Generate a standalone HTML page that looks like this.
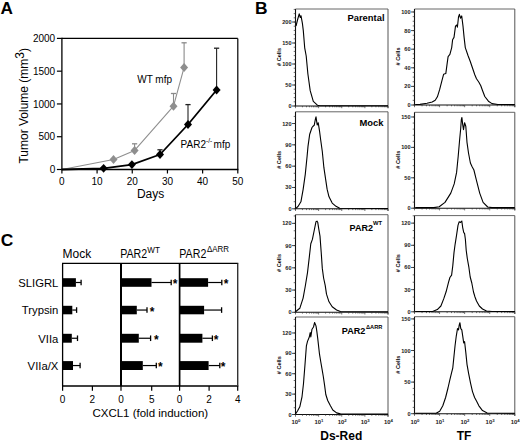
<!DOCTYPE html>
<html><head><meta charset="utf-8"><style>
html,body{margin:0;padding:0;background:#fff;width:520px;height:442px;overflow:hidden;}
svg{display:block;font-family:"Liberation Sans", sans-serif;}
</style></head><body>
<svg width="520" height="442" viewBox="0 0 520 442">
<rect width="520" height="442" fill="#fff"/>
<text x="0.60" y="14.30" font-size="17.2" text-anchor="start" font-weight="bold" fill="#000" >A</text>
<text x="254.90" y="14.20" font-size="17.4" text-anchor="start" font-weight="bold" fill="#000" >B</text>
<text x="0.80" y="246.40" font-size="17.4" text-anchor="start" font-weight="bold" fill="#000" >C</text>
<line x1="61.90" y1="38.40" x2="237.80" y2="38.40" stroke="#000" stroke-width="1.2"/>
<line x1="237.80" y1="38.40" x2="237.80" y2="169.50" stroke="#000" stroke-width="1.2"/>
<line x1="61.90" y1="37.80" x2="61.90" y2="170.10" stroke="#000" stroke-width="1.3"/>
<line x1="61.30" y1="169.50" x2="238.40" y2="169.50" stroke="#000" stroke-width="1.3"/>
<line x1="56.90" y1="169.50" x2="61.90" y2="169.50" stroke="#000" stroke-width="1.2"/>
<text x="55.20" y="173.10" font-size="10" text-anchor="end" font-weight="normal" fill="#000" >0</text>
<line x1="56.90" y1="136.72" x2="61.90" y2="136.72" stroke="#000" stroke-width="1.2"/>
<text x="55.20" y="140.32" font-size="10" text-anchor="end" font-weight="normal" fill="#000" >500</text>
<line x1="56.90" y1="103.95" x2="61.90" y2="103.95" stroke="#000" stroke-width="1.2"/>
<text x="55.20" y="107.55" font-size="10" text-anchor="end" font-weight="normal" fill="#000" >1000</text>
<line x1="56.90" y1="71.17" x2="61.90" y2="71.17" stroke="#000" stroke-width="1.2"/>
<text x="55.20" y="74.77" font-size="10" text-anchor="end" font-weight="normal" fill="#000" >1500</text>
<line x1="56.90" y1="38.40" x2="61.90" y2="38.40" stroke="#000" stroke-width="1.2"/>
<text x="55.20" y="42.00" font-size="10" text-anchor="end" font-weight="normal" fill="#000" >2000</text>
<line x1="61.90" y1="169.50" x2="61.90" y2="173.50" stroke="#000" stroke-width="1.2"/>
<text x="61.90" y="185.00" font-size="10" text-anchor="middle" font-weight="normal" fill="#000" >0</text>
<line x1="97.08" y1="169.50" x2="97.08" y2="173.50" stroke="#000" stroke-width="1.2"/>
<text x="97.08" y="185.00" font-size="10" text-anchor="middle" font-weight="normal" fill="#000" >10</text>
<line x1="132.26" y1="169.50" x2="132.26" y2="173.50" stroke="#000" stroke-width="1.2"/>
<text x="132.26" y="185.00" font-size="10" text-anchor="middle" font-weight="normal" fill="#000" >20</text>
<line x1="167.44" y1="169.50" x2="167.44" y2="173.50" stroke="#000" stroke-width="1.2"/>
<text x="167.44" y="185.00" font-size="10" text-anchor="middle" font-weight="normal" fill="#000" >30</text>
<line x1="202.62" y1="169.50" x2="202.62" y2="173.50" stroke="#000" stroke-width="1.2"/>
<text x="202.62" y="185.00" font-size="10" text-anchor="middle" font-weight="normal" fill="#000" >40</text>
<line x1="237.80" y1="169.50" x2="237.80" y2="173.50" stroke="#000" stroke-width="1.2"/>
<text x="237.80" y="185.00" font-size="10" text-anchor="middle" font-weight="normal" fill="#000" >50</text>
<text x="150.60" y="197.60" font-size="12" text-anchor="middle" font-weight="normal" fill="#000" >Days</text>
<text transform="translate(28.0,163.6) rotate(-90)" font-size="12">Tumor Volume (mm<tspan font-size="12" dy="-3.6">3</tspan><tspan dy="3.6">)</tspan></text>
<line x1="134.60" y1="150.40" x2="134.60" y2="143.80" stroke="#8a8a8a" stroke-width="1.1"/>
<line x1="132.00" y1="143.80" x2="137.20" y2="143.80" stroke="#8a8a8a" stroke-width="1.3"/>
<line x1="173.50" y1="106.20" x2="173.50" y2="93.50" stroke="#8a8a8a" stroke-width="1.1"/>
<line x1="170.90" y1="93.50" x2="176.10" y2="93.50" stroke="#8a8a8a" stroke-width="1.3"/>
<line x1="184.10" y1="67.40" x2="184.10" y2="42.80" stroke="#8a8a8a" stroke-width="1.1"/>
<line x1="181.50" y1="42.80" x2="186.70" y2="42.80" stroke="#8a8a8a" stroke-width="1.3"/>
<polyline points="61.90,169.50 113.50,159.50 134.60,150.40 173.50,106.20 184.10,67.40" fill="none" stroke="#8f8f8f" stroke-width="1.1" stroke-linejoin="round"/>
<path d="M113.50,155.00 L117.50,159.50 L113.50,164.00 L109.50,159.50 Z" fill="#8e8e8e"/>
<path d="M134.60,145.90 L138.60,150.40 L134.60,154.90 L130.60,150.40 Z" fill="#8e8e8e"/>
<path d="M173.50,101.70 L177.50,106.20 L173.50,110.70 L169.50,106.20 Z" fill="#8e8e8e"/>
<path d="M184.10,62.90 L188.10,67.40 L184.10,71.90 L180.10,67.40 Z" fill="#8e8e8e"/>
<line x1="160.00" y1="154.50" x2="160.00" y2="149.80" stroke="#222" stroke-width="1.1"/>
<line x1="157.40" y1="149.80" x2="162.60" y2="149.80" stroke="#222" stroke-width="1.3"/>
<line x1="188.00" y1="124.50" x2="188.00" y2="104.60" stroke="#222" stroke-width="1.1"/>
<line x1="185.40" y1="104.60" x2="190.60" y2="104.60" stroke="#222" stroke-width="1.3"/>
<line x1="216.60" y1="90.00" x2="216.60" y2="48.20" stroke="#222" stroke-width="1.1"/>
<line x1="214.00" y1="48.20" x2="219.20" y2="48.20" stroke="#222" stroke-width="1.3"/>
<polyline points="61.90,169.50 103.60,168.30 131.90,164.60 160.00,154.50 188.00,124.50 216.60,90.00" fill="none" stroke="#000" stroke-width="1.8" stroke-linejoin="round"/>
<path d="M103.60,163.90 L107.60,168.30 L103.60,172.70 L99.60,168.30 Z" fill="#000"/>
<path d="M131.90,160.20 L135.90,164.60 L131.90,169.00 L127.90,164.60 Z" fill="#000"/>
<path d="M160.00,150.10 L164.00,154.50 L160.00,158.90 L156.00,154.50 Z" fill="#000"/>
<path d="M188.00,120.10 L192.00,124.50 L188.00,128.90 L184.00,124.50 Z" fill="#000"/>
<path d="M216.60,85.60 L220.60,90.00 L216.60,94.40 L212.60,90.00 Z" fill="#000"/>
<text x="137.20" y="83.40" font-size="10" text-anchor="start" font-weight="normal" fill="#000" >WT mfp</text>
<text x="180.6" y="147.5" font-size="10">PAR2<tspan font-size="6.5" dy="-4.2">-/-</tspan></text>
<text x="213.60" y="147.50" font-size="10" text-anchor="start" font-weight="normal" fill="#000" >mfp</text>
<line x1="295.50" y1="9.00" x2="388.00" y2="9.00" stroke="#666" stroke-width="1.0"/>
<line x1="388.00" y1="9.00" x2="388.00" y2="108.20" stroke="#555" stroke-width="1.0"/>
<line x1="295.50" y1="9.00" x2="295.50" y2="106.50" stroke="#111" stroke-width="1.1"/>
<line x1="295.50" y1="106.00" x2="388.00" y2="106.00" stroke="#111" stroke-width="1.1"/>
<line x1="293.70" y1="106.00" x2="295.50" y2="106.00" stroke="#333" stroke-width="0.7"/>
<line x1="293.70" y1="101.80" x2="295.50" y2="101.80" stroke="#333" stroke-width="0.7"/>
<line x1="293.70" y1="97.60" x2="295.50" y2="97.60" stroke="#333" stroke-width="0.7"/>
<line x1="293.70" y1="93.40" x2="295.50" y2="93.40" stroke="#333" stroke-width="0.7"/>
<line x1="293.70" y1="89.20" x2="295.50" y2="89.20" stroke="#333" stroke-width="0.7"/>
<line x1="293.70" y1="85.00" x2="295.50" y2="85.00" stroke="#333" stroke-width="0.7"/>
<line x1="293.70" y1="80.81" x2="295.50" y2="80.81" stroke="#333" stroke-width="0.7"/>
<line x1="293.70" y1="76.61" x2="295.50" y2="76.61" stroke="#333" stroke-width="0.7"/>
<line x1="293.70" y1="72.41" x2="295.50" y2="72.41" stroke="#333" stroke-width="0.7"/>
<line x1="293.70" y1="68.21" x2="295.50" y2="68.21" stroke="#333" stroke-width="0.7"/>
<line x1="293.70" y1="64.01" x2="295.50" y2="64.01" stroke="#333" stroke-width="0.7"/>
<line x1="293.70" y1="59.81" x2="295.50" y2="59.81" stroke="#333" stroke-width="0.7"/>
<line x1="293.70" y1="55.61" x2="295.50" y2="55.61" stroke="#333" stroke-width="0.7"/>
<line x1="293.70" y1="51.41" x2="295.50" y2="51.41" stroke="#333" stroke-width="0.7"/>
<line x1="293.70" y1="47.21" x2="295.50" y2="47.21" stroke="#333" stroke-width="0.7"/>
<line x1="293.70" y1="43.01" x2="295.50" y2="43.01" stroke="#333" stroke-width="0.7"/>
<line x1="293.70" y1="38.81" x2="295.50" y2="38.81" stroke="#333" stroke-width="0.7"/>
<line x1="293.70" y1="34.61" x2="295.50" y2="34.61" stroke="#333" stroke-width="0.7"/>
<line x1="293.70" y1="30.42" x2="295.50" y2="30.42" stroke="#333" stroke-width="0.7"/>
<line x1="293.70" y1="26.22" x2="295.50" y2="26.22" stroke="#333" stroke-width="0.7"/>
<line x1="293.70" y1="22.02" x2="295.50" y2="22.02" stroke="#333" stroke-width="0.7"/>
<line x1="293.70" y1="17.82" x2="295.50" y2="17.82" stroke="#333" stroke-width="0.7"/>
<line x1="293.70" y1="13.62" x2="295.50" y2="13.62" stroke="#333" stroke-width="0.7"/>
<line x1="293.70" y1="9.42" x2="295.50" y2="9.42" stroke="#333" stroke-width="0.7"/>
<line x1="292.00" y1="106.00" x2="295.50" y2="106.00" stroke="#222" stroke-width="0.8"/>
<text x="291.60" y="108.00" font-size="5.6" text-anchor="end" font-weight="bold" fill="#222" >0</text>
<line x1="292.00" y1="85.00" x2="295.50" y2="85.00" stroke="#222" stroke-width="0.8"/>
<text x="291.60" y="87.00" font-size="5.6" text-anchor="end" font-weight="bold" fill="#222" >50</text>
<line x1="292.00" y1="64.01" x2="295.50" y2="64.01" stroke="#222" stroke-width="0.8"/>
<text x="291.60" y="66.01" font-size="5.6" text-anchor="end" font-weight="bold" fill="#222" >100</text>
<line x1="292.00" y1="43.01" x2="295.50" y2="43.01" stroke="#222" stroke-width="0.8"/>
<text x="291.60" y="45.01" font-size="5.6" text-anchor="end" font-weight="bold" fill="#222" >150</text>
<line x1="292.00" y1="22.02" x2="295.50" y2="22.02" stroke="#222" stroke-width="0.8"/>
<text x="291.60" y="24.02" font-size="5.6" text-anchor="end" font-weight="bold" fill="#222" >200</text>
<line x1="295.50" y1="106.00" x2="295.50" y2="108.20" stroke="#333" stroke-width="0.7"/>
<line x1="302.46" y1="106.00" x2="302.46" y2="107.30" stroke="#333" stroke-width="0.7"/>
<line x1="306.53" y1="106.00" x2="306.53" y2="107.30" stroke="#333" stroke-width="0.7"/>
<line x1="309.42" y1="106.00" x2="309.42" y2="107.30" stroke="#333" stroke-width="0.7"/>
<line x1="311.66" y1="106.00" x2="311.66" y2="107.30" stroke="#333" stroke-width="0.7"/>
<line x1="313.49" y1="106.00" x2="313.49" y2="107.30" stroke="#333" stroke-width="0.7"/>
<line x1="315.04" y1="106.00" x2="315.04" y2="107.30" stroke="#333" stroke-width="0.7"/>
<line x1="316.38" y1="106.00" x2="316.38" y2="107.30" stroke="#333" stroke-width="0.7"/>
<line x1="317.57" y1="106.00" x2="317.57" y2="107.30" stroke="#333" stroke-width="0.7"/>
<line x1="318.62" y1="106.00" x2="318.62" y2="108.20" stroke="#333" stroke-width="0.7"/>
<line x1="325.59" y1="106.00" x2="325.59" y2="107.30" stroke="#333" stroke-width="0.7"/>
<line x1="329.66" y1="106.00" x2="329.66" y2="107.30" stroke="#333" stroke-width="0.7"/>
<line x1="332.55" y1="106.00" x2="332.55" y2="107.30" stroke="#333" stroke-width="0.7"/>
<line x1="334.79" y1="106.00" x2="334.79" y2="107.30" stroke="#333" stroke-width="0.7"/>
<line x1="336.62" y1="106.00" x2="336.62" y2="107.30" stroke="#333" stroke-width="0.7"/>
<line x1="338.17" y1="106.00" x2="338.17" y2="107.30" stroke="#333" stroke-width="0.7"/>
<line x1="339.51" y1="106.00" x2="339.51" y2="107.30" stroke="#333" stroke-width="0.7"/>
<line x1="340.69" y1="106.00" x2="340.69" y2="107.30" stroke="#333" stroke-width="0.7"/>
<line x1="341.75" y1="106.00" x2="341.75" y2="108.20" stroke="#333" stroke-width="0.7"/>
<line x1="348.71" y1="106.00" x2="348.71" y2="107.30" stroke="#333" stroke-width="0.7"/>
<line x1="352.78" y1="106.00" x2="352.78" y2="107.30" stroke="#333" stroke-width="0.7"/>
<line x1="355.67" y1="106.00" x2="355.67" y2="107.30" stroke="#333" stroke-width="0.7"/>
<line x1="357.91" y1="106.00" x2="357.91" y2="107.30" stroke="#333" stroke-width="0.7"/>
<line x1="359.74" y1="106.00" x2="359.74" y2="107.30" stroke="#333" stroke-width="0.7"/>
<line x1="361.29" y1="106.00" x2="361.29" y2="107.30" stroke="#333" stroke-width="0.7"/>
<line x1="362.63" y1="106.00" x2="362.63" y2="107.30" stroke="#333" stroke-width="0.7"/>
<line x1="363.82" y1="106.00" x2="363.82" y2="107.30" stroke="#333" stroke-width="0.7"/>
<line x1="364.88" y1="106.00" x2="364.88" y2="108.20" stroke="#333" stroke-width="0.7"/>
<line x1="371.84" y1="106.00" x2="371.84" y2="107.30" stroke="#333" stroke-width="0.7"/>
<line x1="375.91" y1="106.00" x2="375.91" y2="107.30" stroke="#333" stroke-width="0.7"/>
<line x1="378.80" y1="106.00" x2="378.80" y2="107.30" stroke="#333" stroke-width="0.7"/>
<line x1="381.04" y1="106.00" x2="381.04" y2="107.30" stroke="#333" stroke-width="0.7"/>
<line x1="382.87" y1="106.00" x2="382.87" y2="107.30" stroke="#333" stroke-width="0.7"/>
<line x1="384.42" y1="106.00" x2="384.42" y2="107.30" stroke="#333" stroke-width="0.7"/>
<line x1="385.76" y1="106.00" x2="385.76" y2="107.30" stroke="#333" stroke-width="0.7"/>
<line x1="386.94" y1="106.00" x2="386.94" y2="107.30" stroke="#333" stroke-width="0.7"/>
<line x1="388.00" y1="106.00" x2="388.00" y2="108.20" stroke="#333" stroke-width="0.7"/>
<polyline points="296.00,26.00 297.50,20.00 299.20,13.90 300.30,17.50 301.00,15.70 302.40,23.40 303.30,30.60 304.70,47.80 306.20,56.00 307.90,74.00 310.20,90.70 313.30,101.40 317.40,105.20 320.00,105.80 388.00,105.80" fill="none" stroke="#000" stroke-width="1.1" stroke-linejoin="round"/>
<text transform="translate(280.90,57.00) rotate(-90)" font-size="5.6" text-anchor="middle" font-weight="bold" fill="#000"># Cells</text>
<line x1="295.50" y1="111.80" x2="388.00" y2="111.80" stroke="#666" stroke-width="1.0"/>
<line x1="388.00" y1="111.80" x2="388.00" y2="211.00" stroke="#555" stroke-width="1.0"/>
<line x1="295.50" y1="111.80" x2="295.50" y2="209.30" stroke="#111" stroke-width="1.1"/>
<line x1="295.50" y1="208.80" x2="388.00" y2="208.80" stroke="#111" stroke-width="1.1"/>
<line x1="293.70" y1="208.80" x2="295.50" y2="208.80" stroke="#333" stroke-width="0.7"/>
<line x1="293.70" y1="201.69" x2="295.50" y2="201.69" stroke="#333" stroke-width="0.7"/>
<line x1="293.70" y1="194.59" x2="295.50" y2="194.59" stroke="#333" stroke-width="0.7"/>
<line x1="293.70" y1="187.48" x2="295.50" y2="187.48" stroke="#333" stroke-width="0.7"/>
<line x1="293.70" y1="180.38" x2="295.50" y2="180.38" stroke="#333" stroke-width="0.7"/>
<line x1="293.70" y1="173.27" x2="295.50" y2="173.27" stroke="#333" stroke-width="0.7"/>
<line x1="293.70" y1="166.16" x2="295.50" y2="166.16" stroke="#333" stroke-width="0.7"/>
<line x1="293.70" y1="159.06" x2="295.50" y2="159.06" stroke="#333" stroke-width="0.7"/>
<line x1="293.70" y1="151.95" x2="295.50" y2="151.95" stroke="#333" stroke-width="0.7"/>
<line x1="293.70" y1="144.84" x2="295.50" y2="144.84" stroke="#333" stroke-width="0.7"/>
<line x1="293.70" y1="137.74" x2="295.50" y2="137.74" stroke="#333" stroke-width="0.7"/>
<line x1="293.70" y1="130.63" x2="295.50" y2="130.63" stroke="#333" stroke-width="0.7"/>
<line x1="293.70" y1="123.53" x2="295.50" y2="123.53" stroke="#333" stroke-width="0.7"/>
<line x1="293.70" y1="116.42" x2="295.50" y2="116.42" stroke="#333" stroke-width="0.7"/>
<line x1="292.00" y1="208.80" x2="295.50" y2="208.80" stroke="#222" stroke-width="0.8"/>
<text x="291.60" y="210.80" font-size="5.6" text-anchor="end" font-weight="bold" fill="#222" >0</text>
<line x1="292.00" y1="187.48" x2="295.50" y2="187.48" stroke="#222" stroke-width="0.8"/>
<text x="291.60" y="189.48" font-size="5.6" text-anchor="end" font-weight="bold" fill="#222" >30</text>
<line x1="292.00" y1="166.16" x2="295.50" y2="166.16" stroke="#222" stroke-width="0.8"/>
<text x="291.60" y="168.16" font-size="5.6" text-anchor="end" font-weight="bold" fill="#222" >60</text>
<line x1="292.00" y1="144.84" x2="295.50" y2="144.84" stroke="#222" stroke-width="0.8"/>
<text x="291.60" y="146.84" font-size="5.6" text-anchor="end" font-weight="bold" fill="#222" >90</text>
<line x1="292.00" y1="123.53" x2="295.50" y2="123.53" stroke="#222" stroke-width="0.8"/>
<text x="291.60" y="125.53" font-size="5.6" text-anchor="end" font-weight="bold" fill="#222" >120</text>
<line x1="295.50" y1="208.80" x2="295.50" y2="211.00" stroke="#333" stroke-width="0.7"/>
<line x1="302.46" y1="208.80" x2="302.46" y2="210.10" stroke="#333" stroke-width="0.7"/>
<line x1="306.53" y1="208.80" x2="306.53" y2="210.10" stroke="#333" stroke-width="0.7"/>
<line x1="309.42" y1="208.80" x2="309.42" y2="210.10" stroke="#333" stroke-width="0.7"/>
<line x1="311.66" y1="208.80" x2="311.66" y2="210.10" stroke="#333" stroke-width="0.7"/>
<line x1="313.49" y1="208.80" x2="313.49" y2="210.10" stroke="#333" stroke-width="0.7"/>
<line x1="315.04" y1="208.80" x2="315.04" y2="210.10" stroke="#333" stroke-width="0.7"/>
<line x1="316.38" y1="208.80" x2="316.38" y2="210.10" stroke="#333" stroke-width="0.7"/>
<line x1="317.57" y1="208.80" x2="317.57" y2="210.10" stroke="#333" stroke-width="0.7"/>
<line x1="318.62" y1="208.80" x2="318.62" y2="211.00" stroke="#333" stroke-width="0.7"/>
<line x1="325.59" y1="208.80" x2="325.59" y2="210.10" stroke="#333" stroke-width="0.7"/>
<line x1="329.66" y1="208.80" x2="329.66" y2="210.10" stroke="#333" stroke-width="0.7"/>
<line x1="332.55" y1="208.80" x2="332.55" y2="210.10" stroke="#333" stroke-width="0.7"/>
<line x1="334.79" y1="208.80" x2="334.79" y2="210.10" stroke="#333" stroke-width="0.7"/>
<line x1="336.62" y1="208.80" x2="336.62" y2="210.10" stroke="#333" stroke-width="0.7"/>
<line x1="338.17" y1="208.80" x2="338.17" y2="210.10" stroke="#333" stroke-width="0.7"/>
<line x1="339.51" y1="208.80" x2="339.51" y2="210.10" stroke="#333" stroke-width="0.7"/>
<line x1="340.69" y1="208.80" x2="340.69" y2="210.10" stroke="#333" stroke-width="0.7"/>
<line x1="341.75" y1="208.80" x2="341.75" y2="211.00" stroke="#333" stroke-width="0.7"/>
<line x1="348.71" y1="208.80" x2="348.71" y2="210.10" stroke="#333" stroke-width="0.7"/>
<line x1="352.78" y1="208.80" x2="352.78" y2="210.10" stroke="#333" stroke-width="0.7"/>
<line x1="355.67" y1="208.80" x2="355.67" y2="210.10" stroke="#333" stroke-width="0.7"/>
<line x1="357.91" y1="208.80" x2="357.91" y2="210.10" stroke="#333" stroke-width="0.7"/>
<line x1="359.74" y1="208.80" x2="359.74" y2="210.10" stroke="#333" stroke-width="0.7"/>
<line x1="361.29" y1="208.80" x2="361.29" y2="210.10" stroke="#333" stroke-width="0.7"/>
<line x1="362.63" y1="208.80" x2="362.63" y2="210.10" stroke="#333" stroke-width="0.7"/>
<line x1="363.82" y1="208.80" x2="363.82" y2="210.10" stroke="#333" stroke-width="0.7"/>
<line x1="364.88" y1="208.80" x2="364.88" y2="211.00" stroke="#333" stroke-width="0.7"/>
<line x1="371.84" y1="208.80" x2="371.84" y2="210.10" stroke="#333" stroke-width="0.7"/>
<line x1="375.91" y1="208.80" x2="375.91" y2="210.10" stroke="#333" stroke-width="0.7"/>
<line x1="378.80" y1="208.80" x2="378.80" y2="210.10" stroke="#333" stroke-width="0.7"/>
<line x1="381.04" y1="208.80" x2="381.04" y2="210.10" stroke="#333" stroke-width="0.7"/>
<line x1="382.87" y1="208.80" x2="382.87" y2="210.10" stroke="#333" stroke-width="0.7"/>
<line x1="384.42" y1="208.80" x2="384.42" y2="210.10" stroke="#333" stroke-width="0.7"/>
<line x1="385.76" y1="208.80" x2="385.76" y2="210.10" stroke="#333" stroke-width="0.7"/>
<line x1="386.94" y1="208.80" x2="386.94" y2="210.10" stroke="#333" stroke-width="0.7"/>
<line x1="388.00" y1="208.80" x2="388.00" y2="211.00" stroke="#333" stroke-width="0.7"/>
<polyline points="295.50,208.60 298.00,206.50 300.90,201.80 303.10,189.60 305.30,174.10 307.10,156.30 308.00,146.40 309.70,134.20 312.00,127.50 313.10,126.20 314.20,125.30 315.40,119.20 316.00,116.90 317.20,125.00 318.20,122.70 319.50,130.80 320.70,140.00 322.30,151.50 323.90,167.70 325.80,180.30 327.10,189.20 329.00,196.80 332.20,203.10 336.00,206.30 339.70,208.30 388.00,208.50" fill="none" stroke="#000" stroke-width="1.1" stroke-linejoin="round"/>
<text transform="translate(280.90,159.80) rotate(-90)" font-size="5.6" text-anchor="middle" font-weight="bold" fill="#000"># Cells</text>
<line x1="295.50" y1="214.70" x2="388.00" y2="214.70" stroke="#666" stroke-width="1.0"/>
<line x1="388.00" y1="214.70" x2="388.00" y2="314.50" stroke="#555" stroke-width="1.0"/>
<line x1="295.50" y1="214.70" x2="295.50" y2="312.80" stroke="#111" stroke-width="1.1"/>
<line x1="295.50" y1="312.30" x2="388.00" y2="312.30" stroke="#111" stroke-width="1.1"/>
<line x1="293.70" y1="312.30" x2="295.50" y2="312.30" stroke="#333" stroke-width="0.7"/>
<line x1="293.70" y1="304.89" x2="295.50" y2="304.89" stroke="#333" stroke-width="0.7"/>
<line x1="293.70" y1="297.48" x2="295.50" y2="297.48" stroke="#333" stroke-width="0.7"/>
<line x1="293.70" y1="290.07" x2="295.50" y2="290.07" stroke="#333" stroke-width="0.7"/>
<line x1="293.70" y1="282.66" x2="295.50" y2="282.66" stroke="#333" stroke-width="0.7"/>
<line x1="293.70" y1="275.25" x2="295.50" y2="275.25" stroke="#333" stroke-width="0.7"/>
<line x1="293.70" y1="267.84" x2="295.50" y2="267.84" stroke="#333" stroke-width="0.7"/>
<line x1="293.70" y1="260.42" x2="295.50" y2="260.42" stroke="#333" stroke-width="0.7"/>
<line x1="293.70" y1="253.01" x2="295.50" y2="253.01" stroke="#333" stroke-width="0.7"/>
<line x1="293.70" y1="245.60" x2="295.50" y2="245.60" stroke="#333" stroke-width="0.7"/>
<line x1="293.70" y1="238.19" x2="295.50" y2="238.19" stroke="#333" stroke-width="0.7"/>
<line x1="293.70" y1="230.78" x2="295.50" y2="230.78" stroke="#333" stroke-width="0.7"/>
<line x1="293.70" y1="223.37" x2="295.50" y2="223.37" stroke="#333" stroke-width="0.7"/>
<line x1="293.70" y1="215.96" x2="295.50" y2="215.96" stroke="#333" stroke-width="0.7"/>
<line x1="292.00" y1="312.30" x2="295.50" y2="312.30" stroke="#222" stroke-width="0.8"/>
<text x="291.60" y="314.30" font-size="5.6" text-anchor="end" font-weight="bold" fill="#222" >0</text>
<line x1="292.00" y1="290.07" x2="295.50" y2="290.07" stroke="#222" stroke-width="0.8"/>
<text x="291.60" y="292.07" font-size="5.6" text-anchor="end" font-weight="bold" fill="#222" >30</text>
<line x1="292.00" y1="267.84" x2="295.50" y2="267.84" stroke="#222" stroke-width="0.8"/>
<text x="291.60" y="269.84" font-size="5.6" text-anchor="end" font-weight="bold" fill="#222" >60</text>
<line x1="292.00" y1="245.60" x2="295.50" y2="245.60" stroke="#222" stroke-width="0.8"/>
<text x="291.60" y="247.60" font-size="5.6" text-anchor="end" font-weight="bold" fill="#222" >90</text>
<line x1="292.00" y1="223.37" x2="295.50" y2="223.37" stroke="#222" stroke-width="0.8"/>
<text x="291.60" y="225.37" font-size="5.6" text-anchor="end" font-weight="bold" fill="#222" >120</text>
<line x1="295.50" y1="312.30" x2="295.50" y2="314.50" stroke="#333" stroke-width="0.7"/>
<line x1="302.46" y1="312.30" x2="302.46" y2="313.60" stroke="#333" stroke-width="0.7"/>
<line x1="306.53" y1="312.30" x2="306.53" y2="313.60" stroke="#333" stroke-width="0.7"/>
<line x1="309.42" y1="312.30" x2="309.42" y2="313.60" stroke="#333" stroke-width="0.7"/>
<line x1="311.66" y1="312.30" x2="311.66" y2="313.60" stroke="#333" stroke-width="0.7"/>
<line x1="313.49" y1="312.30" x2="313.49" y2="313.60" stroke="#333" stroke-width="0.7"/>
<line x1="315.04" y1="312.30" x2="315.04" y2="313.60" stroke="#333" stroke-width="0.7"/>
<line x1="316.38" y1="312.30" x2="316.38" y2="313.60" stroke="#333" stroke-width="0.7"/>
<line x1="317.57" y1="312.30" x2="317.57" y2="313.60" stroke="#333" stroke-width="0.7"/>
<line x1="318.62" y1="312.30" x2="318.62" y2="314.50" stroke="#333" stroke-width="0.7"/>
<line x1="325.59" y1="312.30" x2="325.59" y2="313.60" stroke="#333" stroke-width="0.7"/>
<line x1="329.66" y1="312.30" x2="329.66" y2="313.60" stroke="#333" stroke-width="0.7"/>
<line x1="332.55" y1="312.30" x2="332.55" y2="313.60" stroke="#333" stroke-width="0.7"/>
<line x1="334.79" y1="312.30" x2="334.79" y2="313.60" stroke="#333" stroke-width="0.7"/>
<line x1="336.62" y1="312.30" x2="336.62" y2="313.60" stroke="#333" stroke-width="0.7"/>
<line x1="338.17" y1="312.30" x2="338.17" y2="313.60" stroke="#333" stroke-width="0.7"/>
<line x1="339.51" y1="312.30" x2="339.51" y2="313.60" stroke="#333" stroke-width="0.7"/>
<line x1="340.69" y1="312.30" x2="340.69" y2="313.60" stroke="#333" stroke-width="0.7"/>
<line x1="341.75" y1="312.30" x2="341.75" y2="314.50" stroke="#333" stroke-width="0.7"/>
<line x1="348.71" y1="312.30" x2="348.71" y2="313.60" stroke="#333" stroke-width="0.7"/>
<line x1="352.78" y1="312.30" x2="352.78" y2="313.60" stroke="#333" stroke-width="0.7"/>
<line x1="355.67" y1="312.30" x2="355.67" y2="313.60" stroke="#333" stroke-width="0.7"/>
<line x1="357.91" y1="312.30" x2="357.91" y2="313.60" stroke="#333" stroke-width="0.7"/>
<line x1="359.74" y1="312.30" x2="359.74" y2="313.60" stroke="#333" stroke-width="0.7"/>
<line x1="361.29" y1="312.30" x2="361.29" y2="313.60" stroke="#333" stroke-width="0.7"/>
<line x1="362.63" y1="312.30" x2="362.63" y2="313.60" stroke="#333" stroke-width="0.7"/>
<line x1="363.82" y1="312.30" x2="363.82" y2="313.60" stroke="#333" stroke-width="0.7"/>
<line x1="364.88" y1="312.30" x2="364.88" y2="314.50" stroke="#333" stroke-width="0.7"/>
<line x1="371.84" y1="312.30" x2="371.84" y2="313.60" stroke="#333" stroke-width="0.7"/>
<line x1="375.91" y1="312.30" x2="375.91" y2="313.60" stroke="#333" stroke-width="0.7"/>
<line x1="378.80" y1="312.30" x2="378.80" y2="313.60" stroke="#333" stroke-width="0.7"/>
<line x1="381.04" y1="312.30" x2="381.04" y2="313.60" stroke="#333" stroke-width="0.7"/>
<line x1="382.87" y1="312.30" x2="382.87" y2="313.60" stroke="#333" stroke-width="0.7"/>
<line x1="384.42" y1="312.30" x2="384.42" y2="313.60" stroke="#333" stroke-width="0.7"/>
<line x1="385.76" y1="312.30" x2="385.76" y2="313.60" stroke="#333" stroke-width="0.7"/>
<line x1="386.94" y1="312.30" x2="386.94" y2="313.60" stroke="#333" stroke-width="0.7"/>
<line x1="388.00" y1="312.30" x2="388.00" y2="314.50" stroke="#333" stroke-width="0.7"/>
<polyline points="295.50,311.80 299.80,308.30 303.10,298.10 305.30,286.00 307.50,272.60 309.30,257.10 310.80,243.80 312.40,239.40 314.20,230.50 316.00,221.70 317.00,221.10 317.70,222.20 318.80,229.20 320.00,236.10 321.20,252.20 322.30,268.40 323.60,278.00 325.20,285.30 326.50,294.20 329.00,301.80 332.20,306.80 336.60,310.00 340.40,311.50 388.00,311.70" fill="none" stroke="#000" stroke-width="1.1" stroke-linejoin="round"/>
<text transform="translate(280.90,263.00) rotate(-90)" font-size="5.6" text-anchor="middle" font-weight="bold" fill="#000"># Cells</text>
<line x1="295.50" y1="317.00" x2="388.00" y2="317.00" stroke="#666" stroke-width="1.0"/>
<line x1="388.00" y1="317.00" x2="388.00" y2="416.70" stroke="#555" stroke-width="1.0"/>
<line x1="295.50" y1="317.00" x2="295.50" y2="415.00" stroke="#111" stroke-width="1.1"/>
<line x1="295.50" y1="414.50" x2="388.00" y2="414.50" stroke="#111" stroke-width="1.1"/>
<line x1="293.70" y1="414.50" x2="295.50" y2="414.50" stroke="#333" stroke-width="0.7"/>
<line x1="293.70" y1="407.71" x2="295.50" y2="407.71" stroke="#333" stroke-width="0.7"/>
<line x1="293.70" y1="400.91" x2="295.50" y2="400.91" stroke="#333" stroke-width="0.7"/>
<line x1="293.70" y1="394.12" x2="295.50" y2="394.12" stroke="#333" stroke-width="0.7"/>
<line x1="293.70" y1="387.32" x2="295.50" y2="387.32" stroke="#333" stroke-width="0.7"/>
<line x1="293.70" y1="380.53" x2="295.50" y2="380.53" stroke="#333" stroke-width="0.7"/>
<line x1="293.70" y1="373.73" x2="295.50" y2="373.73" stroke="#333" stroke-width="0.7"/>
<line x1="293.70" y1="366.94" x2="295.50" y2="366.94" stroke="#333" stroke-width="0.7"/>
<line x1="293.70" y1="360.14" x2="295.50" y2="360.14" stroke="#333" stroke-width="0.7"/>
<line x1="293.70" y1="353.35" x2="295.50" y2="353.35" stroke="#333" stroke-width="0.7"/>
<line x1="293.70" y1="346.56" x2="295.50" y2="346.56" stroke="#333" stroke-width="0.7"/>
<line x1="293.70" y1="339.76" x2="295.50" y2="339.76" stroke="#333" stroke-width="0.7"/>
<line x1="293.70" y1="332.97" x2="295.50" y2="332.97" stroke="#333" stroke-width="0.7"/>
<line x1="293.70" y1="326.17" x2="295.50" y2="326.17" stroke="#333" stroke-width="0.7"/>
<line x1="293.70" y1="319.38" x2="295.50" y2="319.38" stroke="#333" stroke-width="0.7"/>
<line x1="292.00" y1="414.50" x2="295.50" y2="414.50" stroke="#222" stroke-width="0.8"/>
<text x="291.60" y="416.50" font-size="5.6" text-anchor="end" font-weight="bold" fill="#222" >0</text>
<line x1="292.00" y1="394.12" x2="295.50" y2="394.12" stroke="#222" stroke-width="0.8"/>
<text x="291.60" y="396.12" font-size="5.6" text-anchor="end" font-weight="bold" fill="#222" >30</text>
<line x1="292.00" y1="373.73" x2="295.50" y2="373.73" stroke="#222" stroke-width="0.8"/>
<text x="291.60" y="375.73" font-size="5.6" text-anchor="end" font-weight="bold" fill="#222" >60</text>
<line x1="292.00" y1="353.35" x2="295.50" y2="353.35" stroke="#222" stroke-width="0.8"/>
<text x="291.60" y="355.35" font-size="5.6" text-anchor="end" font-weight="bold" fill="#222" >90</text>
<line x1="292.00" y1="332.97" x2="295.50" y2="332.97" stroke="#222" stroke-width="0.8"/>
<text x="291.60" y="334.97" font-size="5.6" text-anchor="end" font-weight="bold" fill="#222" >120</text>
<line x1="295.50" y1="414.50" x2="295.50" y2="416.70" stroke="#333" stroke-width="0.7"/>
<line x1="302.46" y1="414.50" x2="302.46" y2="415.80" stroke="#333" stroke-width="0.7"/>
<line x1="306.53" y1="414.50" x2="306.53" y2="415.80" stroke="#333" stroke-width="0.7"/>
<line x1="309.42" y1="414.50" x2="309.42" y2="415.80" stroke="#333" stroke-width="0.7"/>
<line x1="311.66" y1="414.50" x2="311.66" y2="415.80" stroke="#333" stroke-width="0.7"/>
<line x1="313.49" y1="414.50" x2="313.49" y2="415.80" stroke="#333" stroke-width="0.7"/>
<line x1="315.04" y1="414.50" x2="315.04" y2="415.80" stroke="#333" stroke-width="0.7"/>
<line x1="316.38" y1="414.50" x2="316.38" y2="415.80" stroke="#333" stroke-width="0.7"/>
<line x1="317.57" y1="414.50" x2="317.57" y2="415.80" stroke="#333" stroke-width="0.7"/>
<line x1="318.62" y1="414.50" x2="318.62" y2="416.70" stroke="#333" stroke-width="0.7"/>
<line x1="325.59" y1="414.50" x2="325.59" y2="415.80" stroke="#333" stroke-width="0.7"/>
<line x1="329.66" y1="414.50" x2="329.66" y2="415.80" stroke="#333" stroke-width="0.7"/>
<line x1="332.55" y1="414.50" x2="332.55" y2="415.80" stroke="#333" stroke-width="0.7"/>
<line x1="334.79" y1="414.50" x2="334.79" y2="415.80" stroke="#333" stroke-width="0.7"/>
<line x1="336.62" y1="414.50" x2="336.62" y2="415.80" stroke="#333" stroke-width="0.7"/>
<line x1="338.17" y1="414.50" x2="338.17" y2="415.80" stroke="#333" stroke-width="0.7"/>
<line x1="339.51" y1="414.50" x2="339.51" y2="415.80" stroke="#333" stroke-width="0.7"/>
<line x1="340.69" y1="414.50" x2="340.69" y2="415.80" stroke="#333" stroke-width="0.7"/>
<line x1="341.75" y1="414.50" x2="341.75" y2="416.70" stroke="#333" stroke-width="0.7"/>
<line x1="348.71" y1="414.50" x2="348.71" y2="415.80" stroke="#333" stroke-width="0.7"/>
<line x1="352.78" y1="414.50" x2="352.78" y2="415.80" stroke="#333" stroke-width="0.7"/>
<line x1="355.67" y1="414.50" x2="355.67" y2="415.80" stroke="#333" stroke-width="0.7"/>
<line x1="357.91" y1="414.50" x2="357.91" y2="415.80" stroke="#333" stroke-width="0.7"/>
<line x1="359.74" y1="414.50" x2="359.74" y2="415.80" stroke="#333" stroke-width="0.7"/>
<line x1="361.29" y1="414.50" x2="361.29" y2="415.80" stroke="#333" stroke-width="0.7"/>
<line x1="362.63" y1="414.50" x2="362.63" y2="415.80" stroke="#333" stroke-width="0.7"/>
<line x1="363.82" y1="414.50" x2="363.82" y2="415.80" stroke="#333" stroke-width="0.7"/>
<line x1="364.88" y1="414.50" x2="364.88" y2="416.70" stroke="#333" stroke-width="0.7"/>
<line x1="371.84" y1="414.50" x2="371.84" y2="415.80" stroke="#333" stroke-width="0.7"/>
<line x1="375.91" y1="414.50" x2="375.91" y2="415.80" stroke="#333" stroke-width="0.7"/>
<line x1="378.80" y1="414.50" x2="378.80" y2="415.80" stroke="#333" stroke-width="0.7"/>
<line x1="381.04" y1="414.50" x2="381.04" y2="415.80" stroke="#333" stroke-width="0.7"/>
<line x1="382.87" y1="414.50" x2="382.87" y2="415.80" stroke="#333" stroke-width="0.7"/>
<line x1="384.42" y1="414.50" x2="384.42" y2="415.80" stroke="#333" stroke-width="0.7"/>
<line x1="385.76" y1="414.50" x2="385.76" y2="415.80" stroke="#333" stroke-width="0.7"/>
<line x1="386.94" y1="414.50" x2="386.94" y2="415.80" stroke="#333" stroke-width="0.7"/>
<line x1="388.00" y1="414.50" x2="388.00" y2="416.70" stroke="#333" stroke-width="0.7"/>
<text x="291.40" y="424.4" font-size="5.9" font-weight="bold" fill="#222">10<tspan font-size="4.3" dy="-2.5">0</tspan></text>
<text x="314.52" y="424.4" font-size="5.9" font-weight="bold" fill="#222">10<tspan font-size="4.3" dy="-2.5">1</tspan></text>
<text x="337.65" y="424.4" font-size="5.9" font-weight="bold" fill="#222">10<tspan font-size="4.3" dy="-2.5">2</tspan></text>
<text x="360.77" y="424.4" font-size="5.9" font-weight="bold" fill="#222">10<tspan font-size="4.3" dy="-2.5">3</tspan></text>
<text x="383.90" y="424.4" font-size="5.9" font-weight="bold" fill="#222">10<tspan font-size="4.3" dy="-2.5">4</tspan></text>
<polyline points="295.50,414.00 297.50,411.00 299.80,406.80 302.00,396.80 303.50,383.50 304.90,365.80 306.40,345.80 307.50,341.40 309.30,337.00 310.20,332.50 310.80,337.00 312.00,329.20 313.50,327.00 314.60,322.50 316.00,325.90 316.80,331.20 317.70,338.10 319.50,354.20 320.80,362.00 322.00,368.90 323.30,376.50 324.60,385.30 325.80,394.50 327.70,400.50 330.30,405.60 332.80,410.00 336.60,412.90 340.40,413.90 388.00,414.00" fill="none" stroke="#000" stroke-width="1.1" stroke-linejoin="round"/>
<text transform="translate(280.90,365.25) rotate(-90)" font-size="5.6" text-anchor="middle" font-weight="bold" fill="#000"># Cells</text>
<line x1="414.50" y1="9.00" x2="514.80" y2="9.00" stroke="#666" stroke-width="1.0"/>
<line x1="514.80" y1="9.00" x2="514.80" y2="107.20" stroke="#555" stroke-width="1.0"/>
<line x1="414.50" y1="9.00" x2="414.50" y2="105.50" stroke="#111" stroke-width="1.1"/>
<line x1="414.50" y1="105.00" x2="514.80" y2="105.00" stroke="#111" stroke-width="1.1"/>
<line x1="412.70" y1="105.00" x2="414.50" y2="105.00" stroke="#333" stroke-width="0.7"/>
<line x1="412.70" y1="100.35" x2="414.50" y2="100.35" stroke="#333" stroke-width="0.7"/>
<line x1="412.70" y1="95.70" x2="414.50" y2="95.70" stroke="#333" stroke-width="0.7"/>
<line x1="412.70" y1="91.05" x2="414.50" y2="91.05" stroke="#333" stroke-width="0.7"/>
<line x1="412.70" y1="86.40" x2="414.50" y2="86.40" stroke="#333" stroke-width="0.7"/>
<line x1="412.70" y1="81.74" x2="414.50" y2="81.74" stroke="#333" stroke-width="0.7"/>
<line x1="412.70" y1="77.09" x2="414.50" y2="77.09" stroke="#333" stroke-width="0.7"/>
<line x1="412.70" y1="72.44" x2="414.50" y2="72.44" stroke="#333" stroke-width="0.7"/>
<line x1="412.70" y1="67.79" x2="414.50" y2="67.79" stroke="#333" stroke-width="0.7"/>
<line x1="412.70" y1="63.14" x2="414.50" y2="63.14" stroke="#333" stroke-width="0.7"/>
<line x1="412.70" y1="58.49" x2="414.50" y2="58.49" stroke="#333" stroke-width="0.7"/>
<line x1="412.70" y1="53.84" x2="414.50" y2="53.84" stroke="#333" stroke-width="0.7"/>
<line x1="412.70" y1="49.19" x2="414.50" y2="49.19" stroke="#333" stroke-width="0.7"/>
<line x1="412.70" y1="44.53" x2="414.50" y2="44.53" stroke="#333" stroke-width="0.7"/>
<line x1="412.70" y1="39.88" x2="414.50" y2="39.88" stroke="#333" stroke-width="0.7"/>
<line x1="412.70" y1="35.23" x2="414.50" y2="35.23" stroke="#333" stroke-width="0.7"/>
<line x1="412.70" y1="30.58" x2="414.50" y2="30.58" stroke="#333" stroke-width="0.7"/>
<line x1="412.70" y1="25.93" x2="414.50" y2="25.93" stroke="#333" stroke-width="0.7"/>
<line x1="412.70" y1="21.28" x2="414.50" y2="21.28" stroke="#333" stroke-width="0.7"/>
<line x1="412.70" y1="16.63" x2="414.50" y2="16.63" stroke="#333" stroke-width="0.7"/>
<line x1="412.70" y1="11.98" x2="414.50" y2="11.98" stroke="#333" stroke-width="0.7"/>
<line x1="411.00" y1="105.00" x2="414.50" y2="105.00" stroke="#222" stroke-width="0.8"/>
<text x="410.60" y="107.00" font-size="5.6" text-anchor="end" font-weight="bold" fill="#222" >0</text>
<line x1="411.00" y1="86.40" x2="414.50" y2="86.40" stroke="#222" stroke-width="0.8"/>
<text x="410.60" y="88.40" font-size="5.6" text-anchor="end" font-weight="bold" fill="#222" >20</text>
<line x1="411.00" y1="67.79" x2="414.50" y2="67.79" stroke="#222" stroke-width="0.8"/>
<text x="410.60" y="69.79" font-size="5.6" text-anchor="end" font-weight="bold" fill="#222" >40</text>
<line x1="411.00" y1="49.19" x2="414.50" y2="49.19" stroke="#222" stroke-width="0.8"/>
<text x="410.60" y="51.19" font-size="5.6" text-anchor="end" font-weight="bold" fill="#222" >60</text>
<line x1="411.00" y1="30.58" x2="414.50" y2="30.58" stroke="#222" stroke-width="0.8"/>
<text x="410.60" y="32.58" font-size="5.6" text-anchor="end" font-weight="bold" fill="#222" >80</text>
<line x1="411.00" y1="11.98" x2="414.50" y2="11.98" stroke="#222" stroke-width="0.8"/>
<text x="410.60" y="13.98" font-size="5.6" text-anchor="end" font-weight="bold" fill="#222" >100</text>
<line x1="414.50" y1="105.00" x2="414.50" y2="107.20" stroke="#333" stroke-width="0.7"/>
<line x1="422.05" y1="105.00" x2="422.05" y2="106.30" stroke="#333" stroke-width="0.7"/>
<line x1="426.46" y1="105.00" x2="426.46" y2="106.30" stroke="#333" stroke-width="0.7"/>
<line x1="429.60" y1="105.00" x2="429.60" y2="106.30" stroke="#333" stroke-width="0.7"/>
<line x1="432.03" y1="105.00" x2="432.03" y2="106.30" stroke="#333" stroke-width="0.7"/>
<line x1="434.01" y1="105.00" x2="434.01" y2="106.30" stroke="#333" stroke-width="0.7"/>
<line x1="435.69" y1="105.00" x2="435.69" y2="106.30" stroke="#333" stroke-width="0.7"/>
<line x1="437.14" y1="105.00" x2="437.14" y2="106.30" stroke="#333" stroke-width="0.7"/>
<line x1="438.43" y1="105.00" x2="438.43" y2="106.30" stroke="#333" stroke-width="0.7"/>
<line x1="439.57" y1="105.00" x2="439.57" y2="107.20" stroke="#333" stroke-width="0.7"/>
<line x1="447.12" y1="105.00" x2="447.12" y2="106.30" stroke="#333" stroke-width="0.7"/>
<line x1="451.54" y1="105.00" x2="451.54" y2="106.30" stroke="#333" stroke-width="0.7"/>
<line x1="454.67" y1="105.00" x2="454.67" y2="106.30" stroke="#333" stroke-width="0.7"/>
<line x1="457.10" y1="105.00" x2="457.10" y2="106.30" stroke="#333" stroke-width="0.7"/>
<line x1="459.09" y1="105.00" x2="459.09" y2="106.30" stroke="#333" stroke-width="0.7"/>
<line x1="460.77" y1="105.00" x2="460.77" y2="106.30" stroke="#333" stroke-width="0.7"/>
<line x1="462.22" y1="105.00" x2="462.22" y2="106.30" stroke="#333" stroke-width="0.7"/>
<line x1="463.50" y1="105.00" x2="463.50" y2="106.30" stroke="#333" stroke-width="0.7"/>
<line x1="464.65" y1="105.00" x2="464.65" y2="107.20" stroke="#333" stroke-width="0.7"/>
<line x1="472.20" y1="105.00" x2="472.20" y2="106.30" stroke="#333" stroke-width="0.7"/>
<line x1="476.61" y1="105.00" x2="476.61" y2="106.30" stroke="#333" stroke-width="0.7"/>
<line x1="479.75" y1="105.00" x2="479.75" y2="106.30" stroke="#333" stroke-width="0.7"/>
<line x1="482.18" y1="105.00" x2="482.18" y2="106.30" stroke="#333" stroke-width="0.7"/>
<line x1="484.16" y1="105.00" x2="484.16" y2="106.30" stroke="#333" stroke-width="0.7"/>
<line x1="485.84" y1="105.00" x2="485.84" y2="106.30" stroke="#333" stroke-width="0.7"/>
<line x1="487.29" y1="105.00" x2="487.29" y2="106.30" stroke="#333" stroke-width="0.7"/>
<line x1="488.58" y1="105.00" x2="488.58" y2="106.30" stroke="#333" stroke-width="0.7"/>
<line x1="489.72" y1="105.00" x2="489.72" y2="107.20" stroke="#333" stroke-width="0.7"/>
<line x1="497.27" y1="105.00" x2="497.27" y2="106.30" stroke="#333" stroke-width="0.7"/>
<line x1="501.69" y1="105.00" x2="501.69" y2="106.30" stroke="#333" stroke-width="0.7"/>
<line x1="504.82" y1="105.00" x2="504.82" y2="106.30" stroke="#333" stroke-width="0.7"/>
<line x1="507.25" y1="105.00" x2="507.25" y2="106.30" stroke="#333" stroke-width="0.7"/>
<line x1="509.24" y1="105.00" x2="509.24" y2="106.30" stroke="#333" stroke-width="0.7"/>
<line x1="510.92" y1="105.00" x2="510.92" y2="106.30" stroke="#333" stroke-width="0.7"/>
<line x1="512.37" y1="105.00" x2="512.37" y2="106.30" stroke="#333" stroke-width="0.7"/>
<line x1="513.65" y1="105.00" x2="513.65" y2="106.30" stroke="#333" stroke-width="0.7"/>
<line x1="514.80" y1="105.00" x2="514.80" y2="107.20" stroke="#333" stroke-width="0.7"/>
<polyline points="415.20,104.50 420.00,104.40 427.00,103.30 432.20,102.00 435.20,100.30 437.40,96.80 439.70,89.40 442.00,80.40 443.60,74.30 445.80,73.60 447.00,64.60 448.10,56.60 449.90,54.40 451.70,47.60 452.60,39.70 454.00,37.40 455.50,26.10 456.70,25.00 457.40,27.20 458.50,17.00 459.40,14.30 460.50,18.20 461.70,15.90 463.00,26.10 464.10,37.40 465.30,47.60 468.00,55.50 470.20,61.20 472.50,68.00 474.80,74.70 476.50,78.70 478.90,82.20 480.80,85.80 482.50,90.50 484.80,96.50 488.40,101.20 492.00,103.60 497.90,104.50 514.80,104.50" fill="none" stroke="#000" stroke-width="1.1" stroke-linejoin="round"/>
<text transform="translate(399.90,56.50) rotate(-90)" font-size="5.6" text-anchor="middle" font-weight="bold" fill="#000"># Cells</text>
<line x1="414.50" y1="112.30" x2="514.80" y2="112.30" stroke="#666" stroke-width="1.0"/>
<line x1="514.80" y1="112.30" x2="514.80" y2="210.40" stroke="#555" stroke-width="1.0"/>
<line x1="414.50" y1="112.30" x2="414.50" y2="208.70" stroke="#111" stroke-width="1.1"/>
<line x1="414.50" y1="208.20" x2="514.80" y2="208.20" stroke="#111" stroke-width="1.1"/>
<line x1="412.70" y1="208.20" x2="414.50" y2="208.20" stroke="#333" stroke-width="0.7"/>
<line x1="412.70" y1="202.12" x2="414.50" y2="202.12" stroke="#333" stroke-width="0.7"/>
<line x1="412.70" y1="196.04" x2="414.50" y2="196.04" stroke="#333" stroke-width="0.7"/>
<line x1="412.70" y1="189.96" x2="414.50" y2="189.96" stroke="#333" stroke-width="0.7"/>
<line x1="412.70" y1="183.88" x2="414.50" y2="183.88" stroke="#333" stroke-width="0.7"/>
<line x1="412.70" y1="177.79" x2="414.50" y2="177.79" stroke="#333" stroke-width="0.7"/>
<line x1="412.70" y1="171.71" x2="414.50" y2="171.71" stroke="#333" stroke-width="0.7"/>
<line x1="412.70" y1="165.63" x2="414.50" y2="165.63" stroke="#333" stroke-width="0.7"/>
<line x1="412.70" y1="159.55" x2="414.50" y2="159.55" stroke="#333" stroke-width="0.7"/>
<line x1="412.70" y1="153.47" x2="414.50" y2="153.47" stroke="#333" stroke-width="0.7"/>
<line x1="412.70" y1="147.39" x2="414.50" y2="147.39" stroke="#333" stroke-width="0.7"/>
<line x1="412.70" y1="141.31" x2="414.50" y2="141.31" stroke="#333" stroke-width="0.7"/>
<line x1="412.70" y1="135.23" x2="414.50" y2="135.23" stroke="#333" stroke-width="0.7"/>
<line x1="412.70" y1="129.14" x2="414.50" y2="129.14" stroke="#333" stroke-width="0.7"/>
<line x1="412.70" y1="123.06" x2="414.50" y2="123.06" stroke="#333" stroke-width="0.7"/>
<line x1="412.70" y1="116.98" x2="414.50" y2="116.98" stroke="#333" stroke-width="0.7"/>
<line x1="411.00" y1="208.20" x2="414.50" y2="208.20" stroke="#222" stroke-width="0.8"/>
<text x="410.60" y="210.20" font-size="5.6" text-anchor="end" font-weight="bold" fill="#222" >0</text>
<line x1="411.00" y1="177.79" x2="414.50" y2="177.79" stroke="#222" stroke-width="0.8"/>
<text x="410.60" y="179.79" font-size="5.6" text-anchor="end" font-weight="bold" fill="#222" >50</text>
<line x1="411.00" y1="147.39" x2="414.50" y2="147.39" stroke="#222" stroke-width="0.8"/>
<text x="410.60" y="149.39" font-size="5.6" text-anchor="end" font-weight="bold" fill="#222" >100</text>
<line x1="411.00" y1="116.98" x2="414.50" y2="116.98" stroke="#222" stroke-width="0.8"/>
<text x="410.60" y="118.98" font-size="5.6" text-anchor="end" font-weight="bold" fill="#222" >150</text>
<line x1="414.50" y1="208.20" x2="414.50" y2="210.40" stroke="#333" stroke-width="0.7"/>
<line x1="422.05" y1="208.20" x2="422.05" y2="209.50" stroke="#333" stroke-width="0.7"/>
<line x1="426.46" y1="208.20" x2="426.46" y2="209.50" stroke="#333" stroke-width="0.7"/>
<line x1="429.60" y1="208.20" x2="429.60" y2="209.50" stroke="#333" stroke-width="0.7"/>
<line x1="432.03" y1="208.20" x2="432.03" y2="209.50" stroke="#333" stroke-width="0.7"/>
<line x1="434.01" y1="208.20" x2="434.01" y2="209.50" stroke="#333" stroke-width="0.7"/>
<line x1="435.69" y1="208.20" x2="435.69" y2="209.50" stroke="#333" stroke-width="0.7"/>
<line x1="437.14" y1="208.20" x2="437.14" y2="209.50" stroke="#333" stroke-width="0.7"/>
<line x1="438.43" y1="208.20" x2="438.43" y2="209.50" stroke="#333" stroke-width="0.7"/>
<line x1="439.57" y1="208.20" x2="439.57" y2="210.40" stroke="#333" stroke-width="0.7"/>
<line x1="447.12" y1="208.20" x2="447.12" y2="209.50" stroke="#333" stroke-width="0.7"/>
<line x1="451.54" y1="208.20" x2="451.54" y2="209.50" stroke="#333" stroke-width="0.7"/>
<line x1="454.67" y1="208.20" x2="454.67" y2="209.50" stroke="#333" stroke-width="0.7"/>
<line x1="457.10" y1="208.20" x2="457.10" y2="209.50" stroke="#333" stroke-width="0.7"/>
<line x1="459.09" y1="208.20" x2="459.09" y2="209.50" stroke="#333" stroke-width="0.7"/>
<line x1="460.77" y1="208.20" x2="460.77" y2="209.50" stroke="#333" stroke-width="0.7"/>
<line x1="462.22" y1="208.20" x2="462.22" y2="209.50" stroke="#333" stroke-width="0.7"/>
<line x1="463.50" y1="208.20" x2="463.50" y2="209.50" stroke="#333" stroke-width="0.7"/>
<line x1="464.65" y1="208.20" x2="464.65" y2="210.40" stroke="#333" stroke-width="0.7"/>
<line x1="472.20" y1="208.20" x2="472.20" y2="209.50" stroke="#333" stroke-width="0.7"/>
<line x1="476.61" y1="208.20" x2="476.61" y2="209.50" stroke="#333" stroke-width="0.7"/>
<line x1="479.75" y1="208.20" x2="479.75" y2="209.50" stroke="#333" stroke-width="0.7"/>
<line x1="482.18" y1="208.20" x2="482.18" y2="209.50" stroke="#333" stroke-width="0.7"/>
<line x1="484.16" y1="208.20" x2="484.16" y2="209.50" stroke="#333" stroke-width="0.7"/>
<line x1="485.84" y1="208.20" x2="485.84" y2="209.50" stroke="#333" stroke-width="0.7"/>
<line x1="487.29" y1="208.20" x2="487.29" y2="209.50" stroke="#333" stroke-width="0.7"/>
<line x1="488.58" y1="208.20" x2="488.58" y2="209.50" stroke="#333" stroke-width="0.7"/>
<line x1="489.72" y1="208.20" x2="489.72" y2="210.40" stroke="#333" stroke-width="0.7"/>
<line x1="497.27" y1="208.20" x2="497.27" y2="209.50" stroke="#333" stroke-width="0.7"/>
<line x1="501.69" y1="208.20" x2="501.69" y2="209.50" stroke="#333" stroke-width="0.7"/>
<line x1="504.82" y1="208.20" x2="504.82" y2="209.50" stroke="#333" stroke-width="0.7"/>
<line x1="507.25" y1="208.20" x2="507.25" y2="209.50" stroke="#333" stroke-width="0.7"/>
<line x1="509.24" y1="208.20" x2="509.24" y2="209.50" stroke="#333" stroke-width="0.7"/>
<line x1="510.92" y1="208.20" x2="510.92" y2="209.50" stroke="#333" stroke-width="0.7"/>
<line x1="512.37" y1="208.20" x2="512.37" y2="209.50" stroke="#333" stroke-width="0.7"/>
<line x1="513.65" y1="208.20" x2="513.65" y2="209.50" stroke="#333" stroke-width="0.7"/>
<line x1="514.80" y1="208.20" x2="514.80" y2="210.40" stroke="#333" stroke-width="0.7"/>
<polyline points="415.20,207.60 433.80,207.60 439.20,206.80 445.00,202.40 450.80,193.10 454.20,183.90 456.60,172.40 458.20,156.20 459.60,140.00 460.70,128.50 461.30,120.00 461.90,117.50 462.70,124.60 463.50,129.60 464.60,122.70 465.80,126.20 467.00,142.30 468.50,153.00 470.40,163.00 472.00,166.50 473.90,170.00 476.20,179.30 479.70,193.10 483.10,202.40 487.70,207.00 492.00,207.60 514.80,207.60" fill="none" stroke="#000" stroke-width="1.1" stroke-linejoin="round"/>
<text transform="translate(399.90,159.75) rotate(-90)" font-size="5.6" text-anchor="middle" font-weight="bold" fill="#000"># Cells</text>
<line x1="414.50" y1="215.60" x2="514.80" y2="215.60" stroke="#666" stroke-width="1.0"/>
<line x1="514.80" y1="215.60" x2="514.80" y2="314.00" stroke="#555" stroke-width="1.0"/>
<line x1="414.50" y1="215.60" x2="414.50" y2="312.30" stroke="#111" stroke-width="1.1"/>
<line x1="414.50" y1="311.80" x2="514.80" y2="311.80" stroke="#111" stroke-width="1.1"/>
<line x1="412.70" y1="311.80" x2="414.50" y2="311.80" stroke="#333" stroke-width="0.7"/>
<line x1="412.70" y1="304.41" x2="414.50" y2="304.41" stroke="#333" stroke-width="0.7"/>
<line x1="412.70" y1="297.02" x2="414.50" y2="297.02" stroke="#333" stroke-width="0.7"/>
<line x1="412.70" y1="289.63" x2="414.50" y2="289.63" stroke="#333" stroke-width="0.7"/>
<line x1="412.70" y1="282.25" x2="414.50" y2="282.25" stroke="#333" stroke-width="0.7"/>
<line x1="412.70" y1="274.86" x2="414.50" y2="274.86" stroke="#333" stroke-width="0.7"/>
<line x1="412.70" y1="267.47" x2="414.50" y2="267.47" stroke="#333" stroke-width="0.7"/>
<line x1="412.70" y1="260.08" x2="414.50" y2="260.08" stroke="#333" stroke-width="0.7"/>
<line x1="412.70" y1="252.69" x2="414.50" y2="252.69" stroke="#333" stroke-width="0.7"/>
<line x1="412.70" y1="245.30" x2="414.50" y2="245.30" stroke="#333" stroke-width="0.7"/>
<line x1="412.70" y1="237.91" x2="414.50" y2="237.91" stroke="#333" stroke-width="0.7"/>
<line x1="412.70" y1="230.53" x2="414.50" y2="230.53" stroke="#333" stroke-width="0.7"/>
<line x1="412.70" y1="223.14" x2="414.50" y2="223.14" stroke="#333" stroke-width="0.7"/>
<line x1="412.70" y1="215.75" x2="414.50" y2="215.75" stroke="#333" stroke-width="0.7"/>
<line x1="411.00" y1="311.80" x2="414.50" y2="311.80" stroke="#222" stroke-width="0.8"/>
<text x="410.60" y="313.80" font-size="5.6" text-anchor="end" font-weight="bold" fill="#222" >0</text>
<line x1="411.00" y1="289.63" x2="414.50" y2="289.63" stroke="#222" stroke-width="0.8"/>
<text x="410.60" y="291.63" font-size="5.6" text-anchor="end" font-weight="bold" fill="#222" >30</text>
<line x1="411.00" y1="267.47" x2="414.50" y2="267.47" stroke="#222" stroke-width="0.8"/>
<text x="410.60" y="269.47" font-size="5.6" text-anchor="end" font-weight="bold" fill="#222" >60</text>
<line x1="411.00" y1="245.30" x2="414.50" y2="245.30" stroke="#222" stroke-width="0.8"/>
<text x="410.60" y="247.30" font-size="5.6" text-anchor="end" font-weight="bold" fill="#222" >90</text>
<line x1="411.00" y1="223.14" x2="414.50" y2="223.14" stroke="#222" stroke-width="0.8"/>
<text x="410.60" y="225.14" font-size="5.6" text-anchor="end" font-weight="bold" fill="#222" >120</text>
<line x1="414.50" y1="311.80" x2="414.50" y2="314.00" stroke="#333" stroke-width="0.7"/>
<line x1="422.05" y1="311.80" x2="422.05" y2="313.10" stroke="#333" stroke-width="0.7"/>
<line x1="426.46" y1="311.80" x2="426.46" y2="313.10" stroke="#333" stroke-width="0.7"/>
<line x1="429.60" y1="311.80" x2="429.60" y2="313.10" stroke="#333" stroke-width="0.7"/>
<line x1="432.03" y1="311.80" x2="432.03" y2="313.10" stroke="#333" stroke-width="0.7"/>
<line x1="434.01" y1="311.80" x2="434.01" y2="313.10" stroke="#333" stroke-width="0.7"/>
<line x1="435.69" y1="311.80" x2="435.69" y2="313.10" stroke="#333" stroke-width="0.7"/>
<line x1="437.14" y1="311.80" x2="437.14" y2="313.10" stroke="#333" stroke-width="0.7"/>
<line x1="438.43" y1="311.80" x2="438.43" y2="313.10" stroke="#333" stroke-width="0.7"/>
<line x1="439.57" y1="311.80" x2="439.57" y2="314.00" stroke="#333" stroke-width="0.7"/>
<line x1="447.12" y1="311.80" x2="447.12" y2="313.10" stroke="#333" stroke-width="0.7"/>
<line x1="451.54" y1="311.80" x2="451.54" y2="313.10" stroke="#333" stroke-width="0.7"/>
<line x1="454.67" y1="311.80" x2="454.67" y2="313.10" stroke="#333" stroke-width="0.7"/>
<line x1="457.10" y1="311.80" x2="457.10" y2="313.10" stroke="#333" stroke-width="0.7"/>
<line x1="459.09" y1="311.80" x2="459.09" y2="313.10" stroke="#333" stroke-width="0.7"/>
<line x1="460.77" y1="311.80" x2="460.77" y2="313.10" stroke="#333" stroke-width="0.7"/>
<line x1="462.22" y1="311.80" x2="462.22" y2="313.10" stroke="#333" stroke-width="0.7"/>
<line x1="463.50" y1="311.80" x2="463.50" y2="313.10" stroke="#333" stroke-width="0.7"/>
<line x1="464.65" y1="311.80" x2="464.65" y2="314.00" stroke="#333" stroke-width="0.7"/>
<line x1="472.20" y1="311.80" x2="472.20" y2="313.10" stroke="#333" stroke-width="0.7"/>
<line x1="476.61" y1="311.80" x2="476.61" y2="313.10" stroke="#333" stroke-width="0.7"/>
<line x1="479.75" y1="311.80" x2="479.75" y2="313.10" stroke="#333" stroke-width="0.7"/>
<line x1="482.18" y1="311.80" x2="482.18" y2="313.10" stroke="#333" stroke-width="0.7"/>
<line x1="484.16" y1="311.80" x2="484.16" y2="313.10" stroke="#333" stroke-width="0.7"/>
<line x1="485.84" y1="311.80" x2="485.84" y2="313.10" stroke="#333" stroke-width="0.7"/>
<line x1="487.29" y1="311.80" x2="487.29" y2="313.10" stroke="#333" stroke-width="0.7"/>
<line x1="488.58" y1="311.80" x2="488.58" y2="313.10" stroke="#333" stroke-width="0.7"/>
<line x1="489.72" y1="311.80" x2="489.72" y2="314.00" stroke="#333" stroke-width="0.7"/>
<line x1="497.27" y1="311.80" x2="497.27" y2="313.10" stroke="#333" stroke-width="0.7"/>
<line x1="501.69" y1="311.80" x2="501.69" y2="313.10" stroke="#333" stroke-width="0.7"/>
<line x1="504.82" y1="311.80" x2="504.82" y2="313.10" stroke="#333" stroke-width="0.7"/>
<line x1="507.25" y1="311.80" x2="507.25" y2="313.10" stroke="#333" stroke-width="0.7"/>
<line x1="509.24" y1="311.80" x2="509.24" y2="313.10" stroke="#333" stroke-width="0.7"/>
<line x1="510.92" y1="311.80" x2="510.92" y2="313.10" stroke="#333" stroke-width="0.7"/>
<line x1="512.37" y1="311.80" x2="512.37" y2="313.10" stroke="#333" stroke-width="0.7"/>
<line x1="513.65" y1="311.80" x2="513.65" y2="313.10" stroke="#333" stroke-width="0.7"/>
<line x1="514.80" y1="311.80" x2="514.80" y2="314.00" stroke="#333" stroke-width="0.7"/>
<polyline points="415.20,311.50 432.60,311.50 437.30,309.60 440.90,306.00 443.70,298.90 446.10,291.80 448.50,282.30 449.90,277.50 451.60,275.10 452.80,265.60 454.00,252.60 455.10,244.30 456.60,234.80 458.00,225.30 459.20,221.70 460.60,222.40 461.80,221.00 462.70,227.60 463.70,232.40 464.60,233.60 465.40,239.50 466.20,250.20 467.30,258.50 468.80,266.80 470.20,277.00 471.80,283.00 473.50,292.00 475.00,297.00 476.50,301.00 479.30,306.00 482.50,309.00 486.50,311.00 492.00,311.50 514.80,311.50" fill="none" stroke="#000" stroke-width="1.1" stroke-linejoin="round"/>
<text transform="translate(399.90,263.20) rotate(-90)" font-size="5.6" text-anchor="middle" font-weight="bold" fill="#000"># Cells</text>
<line x1="414.50" y1="316.70" x2="514.80" y2="316.70" stroke="#666" stroke-width="1.0"/>
<line x1="514.80" y1="316.70" x2="514.80" y2="415.90" stroke="#555" stroke-width="1.0"/>
<line x1="414.50" y1="316.70" x2="414.50" y2="414.20" stroke="#111" stroke-width="1.1"/>
<line x1="414.50" y1="413.70" x2="514.80" y2="413.70" stroke="#111" stroke-width="1.1"/>
<line x1="412.70" y1="413.70" x2="414.50" y2="413.70" stroke="#333" stroke-width="0.7"/>
<line x1="412.70" y1="407.38" x2="414.50" y2="407.38" stroke="#333" stroke-width="0.7"/>
<line x1="412.70" y1="401.06" x2="414.50" y2="401.06" stroke="#333" stroke-width="0.7"/>
<line x1="412.70" y1="394.74" x2="414.50" y2="394.74" stroke="#333" stroke-width="0.7"/>
<line x1="412.70" y1="388.42" x2="414.50" y2="388.42" stroke="#333" stroke-width="0.7"/>
<line x1="412.70" y1="382.10" x2="414.50" y2="382.10" stroke="#333" stroke-width="0.7"/>
<line x1="412.70" y1="375.78" x2="414.50" y2="375.78" stroke="#333" stroke-width="0.7"/>
<line x1="412.70" y1="369.47" x2="414.50" y2="369.47" stroke="#333" stroke-width="0.7"/>
<line x1="412.70" y1="363.15" x2="414.50" y2="363.15" stroke="#333" stroke-width="0.7"/>
<line x1="412.70" y1="356.83" x2="414.50" y2="356.83" stroke="#333" stroke-width="0.7"/>
<line x1="412.70" y1="350.51" x2="414.50" y2="350.51" stroke="#333" stroke-width="0.7"/>
<line x1="412.70" y1="344.19" x2="414.50" y2="344.19" stroke="#333" stroke-width="0.7"/>
<line x1="412.70" y1="337.87" x2="414.50" y2="337.87" stroke="#333" stroke-width="0.7"/>
<line x1="412.70" y1="331.55" x2="414.50" y2="331.55" stroke="#333" stroke-width="0.7"/>
<line x1="412.70" y1="325.23" x2="414.50" y2="325.23" stroke="#333" stroke-width="0.7"/>
<line x1="412.70" y1="318.91" x2="414.50" y2="318.91" stroke="#333" stroke-width="0.7"/>
<line x1="411.00" y1="413.70" x2="414.50" y2="413.70" stroke="#222" stroke-width="0.8"/>
<text x="410.60" y="415.70" font-size="5.6" text-anchor="end" font-weight="bold" fill="#222" >0</text>
<line x1="411.00" y1="382.10" x2="414.50" y2="382.10" stroke="#222" stroke-width="0.8"/>
<text x="410.60" y="384.10" font-size="5.6" text-anchor="end" font-weight="bold" fill="#222" >50</text>
<line x1="411.00" y1="350.51" x2="414.50" y2="350.51" stroke="#222" stroke-width="0.8"/>
<text x="410.60" y="352.51" font-size="5.6" text-anchor="end" font-weight="bold" fill="#222" >100</text>
<line x1="411.00" y1="318.91" x2="414.50" y2="318.91" stroke="#222" stroke-width="0.8"/>
<text x="410.60" y="320.91" font-size="5.6" text-anchor="end" font-weight="bold" fill="#222" >150</text>
<line x1="414.50" y1="413.70" x2="414.50" y2="415.90" stroke="#333" stroke-width="0.7"/>
<line x1="422.05" y1="413.70" x2="422.05" y2="415.00" stroke="#333" stroke-width="0.7"/>
<line x1="426.46" y1="413.70" x2="426.46" y2="415.00" stroke="#333" stroke-width="0.7"/>
<line x1="429.60" y1="413.70" x2="429.60" y2="415.00" stroke="#333" stroke-width="0.7"/>
<line x1="432.03" y1="413.70" x2="432.03" y2="415.00" stroke="#333" stroke-width="0.7"/>
<line x1="434.01" y1="413.70" x2="434.01" y2="415.00" stroke="#333" stroke-width="0.7"/>
<line x1="435.69" y1="413.70" x2="435.69" y2="415.00" stroke="#333" stroke-width="0.7"/>
<line x1="437.14" y1="413.70" x2="437.14" y2="415.00" stroke="#333" stroke-width="0.7"/>
<line x1="438.43" y1="413.70" x2="438.43" y2="415.00" stroke="#333" stroke-width="0.7"/>
<line x1="439.57" y1="413.70" x2="439.57" y2="415.90" stroke="#333" stroke-width="0.7"/>
<line x1="447.12" y1="413.70" x2="447.12" y2="415.00" stroke="#333" stroke-width="0.7"/>
<line x1="451.54" y1="413.70" x2="451.54" y2="415.00" stroke="#333" stroke-width="0.7"/>
<line x1="454.67" y1="413.70" x2="454.67" y2="415.00" stroke="#333" stroke-width="0.7"/>
<line x1="457.10" y1="413.70" x2="457.10" y2="415.00" stroke="#333" stroke-width="0.7"/>
<line x1="459.09" y1="413.70" x2="459.09" y2="415.00" stroke="#333" stroke-width="0.7"/>
<line x1="460.77" y1="413.70" x2="460.77" y2="415.00" stroke="#333" stroke-width="0.7"/>
<line x1="462.22" y1="413.70" x2="462.22" y2="415.00" stroke="#333" stroke-width="0.7"/>
<line x1="463.50" y1="413.70" x2="463.50" y2="415.00" stroke="#333" stroke-width="0.7"/>
<line x1="464.65" y1="413.70" x2="464.65" y2="415.90" stroke="#333" stroke-width="0.7"/>
<line x1="472.20" y1="413.70" x2="472.20" y2="415.00" stroke="#333" stroke-width="0.7"/>
<line x1="476.61" y1="413.70" x2="476.61" y2="415.00" stroke="#333" stroke-width="0.7"/>
<line x1="479.75" y1="413.70" x2="479.75" y2="415.00" stroke="#333" stroke-width="0.7"/>
<line x1="482.18" y1="413.70" x2="482.18" y2="415.00" stroke="#333" stroke-width="0.7"/>
<line x1="484.16" y1="413.70" x2="484.16" y2="415.00" stroke="#333" stroke-width="0.7"/>
<line x1="485.84" y1="413.70" x2="485.84" y2="415.00" stroke="#333" stroke-width="0.7"/>
<line x1="487.29" y1="413.70" x2="487.29" y2="415.00" stroke="#333" stroke-width="0.7"/>
<line x1="488.58" y1="413.70" x2="488.58" y2="415.00" stroke="#333" stroke-width="0.7"/>
<line x1="489.72" y1="413.70" x2="489.72" y2="415.90" stroke="#333" stroke-width="0.7"/>
<line x1="497.27" y1="413.70" x2="497.27" y2="415.00" stroke="#333" stroke-width="0.7"/>
<line x1="501.69" y1="413.70" x2="501.69" y2="415.00" stroke="#333" stroke-width="0.7"/>
<line x1="504.82" y1="413.70" x2="504.82" y2="415.00" stroke="#333" stroke-width="0.7"/>
<line x1="507.25" y1="413.70" x2="507.25" y2="415.00" stroke="#333" stroke-width="0.7"/>
<line x1="509.24" y1="413.70" x2="509.24" y2="415.00" stroke="#333" stroke-width="0.7"/>
<line x1="510.92" y1="413.70" x2="510.92" y2="415.00" stroke="#333" stroke-width="0.7"/>
<line x1="512.37" y1="413.70" x2="512.37" y2="415.00" stroke="#333" stroke-width="0.7"/>
<line x1="513.65" y1="413.70" x2="513.65" y2="415.00" stroke="#333" stroke-width="0.7"/>
<line x1="514.80" y1="413.70" x2="514.80" y2="415.90" stroke="#333" stroke-width="0.7"/>
<text x="410.40" y="424.4" font-size="5.9" font-weight="bold" fill="#222">10<tspan font-size="4.3" dy="-2.5">0</tspan></text>
<text x="435.47" y="424.4" font-size="5.9" font-weight="bold" fill="#222">10<tspan font-size="4.3" dy="-2.5">1</tspan></text>
<text x="460.55" y="424.4" font-size="5.9" font-weight="bold" fill="#222">10<tspan font-size="4.3" dy="-2.5">2</tspan></text>
<text x="485.62" y="424.4" font-size="5.9" font-weight="bold" fill="#222">10<tspan font-size="4.3" dy="-2.5">3</tspan></text>
<text x="510.70" y="424.4" font-size="5.9" font-weight="bold" fill="#222">10<tspan font-size="4.3" dy="-2.5">4</tspan></text>
<polyline points="415.20,413.30 436.10,413.30 439.70,411.30 442.80,405.80 445.60,397.50 448.00,388.00 449.90,379.70 451.60,372.60 452.80,367.80 454.00,356.00 455.10,345.30 456.30,335.80 457.50,328.60 458.50,329.80 459.20,325.10 459.90,322.70 460.80,328.60 461.80,329.80 462.70,335.80 463.70,342.90 464.60,341.70 465.80,352.40 467.00,364.30 468.70,373.80 470.60,383.30 472.50,391.60 474.60,397.50 476.50,401.10 478.90,405.80 482.50,410.60 487.20,413.00 514.80,413.30" fill="none" stroke="#000" stroke-width="1.1" stroke-linejoin="round"/>
<text transform="translate(399.90,364.70) rotate(-90)" font-size="5.6" text-anchor="middle" font-weight="bold" fill="#000"># Cells</text>
<text x="384.50" y="20.90" font-size="9.4" text-anchor="end" font-weight="bold" fill="#000" >Parental</text>
<text x="383.50" y="126.00" font-size="9.4" text-anchor="end" font-weight="bold" fill="#000" >Mock</text>
<text x="349.60" y="230.60" font-size="9.5" text-anchor="start" font-weight="bold" fill="#000" textLength="23.4" lengthAdjust="spacingAndGlyphs" >PAR2</text>
<text x="373.00" y="225.40" font-size="5.8" text-anchor="start" font-weight="bold" fill="#000" textLength="9.0" lengthAdjust="spacingAndGlyphs" >WT</text>
<text x="341.80" y="333.80" font-size="9.5" text-anchor="start" font-weight="bold" fill="#000" textLength="23.6" lengthAdjust="spacingAndGlyphs" >PAR2</text>
<text x="366.00" y="328.70" font-size="5.8" text-anchor="start" font-weight="bold" fill="#000" textLength="16.4" lengthAdjust="spacingAndGlyphs" >ΔARR</text>
<text x="341.30" y="440.00" font-size="12" text-anchor="middle" font-weight="bold" fill="#000" >Ds-Red</text>
<text x="464.00" y="440.00" font-size="12" text-anchor="middle" font-weight="bold" fill="#000" >TF</text>
<line x1="62.00" y1="263.45" x2="238.30" y2="263.45" stroke="#000" stroke-width="1.3"/>
<line x1="62.00" y1="386.00" x2="238.30" y2="386.00" stroke="#000" stroke-width="1.4"/>
<line x1="62.60" y1="263.45" x2="62.60" y2="386.00" stroke="#000" stroke-width="1.3"/>
<line x1="121.00" y1="263.45" x2="121.00" y2="386.00" stroke="#000" stroke-width="2.0"/>
<line x1="179.60" y1="263.45" x2="179.60" y2="386.00" stroke="#000" stroke-width="1.7"/>
<line x1="237.70" y1="263.45" x2="237.70" y2="386.00" stroke="#333" stroke-width="1.4"/>
<line x1="62.60" y1="386.00" x2="62.60" y2="390.80" stroke="#000" stroke-width="1.2"/>
<text x="62.60" y="403.00" font-size="10" text-anchor="middle" font-weight="normal" fill="#000" >0</text>
<line x1="92.40" y1="386.00" x2="92.40" y2="390.80" stroke="#000" stroke-width="1.2"/>
<text x="92.40" y="403.00" font-size="10" text-anchor="middle" font-weight="normal" fill="#000" >2</text>
<line x1="121.00" y1="386.00" x2="121.00" y2="390.80" stroke="#000" stroke-width="1.2"/>
<text x="121.00" y="403.00" font-size="10" text-anchor="middle" font-weight="normal" fill="#000" >0</text>
<line x1="151.70" y1="386.00" x2="151.70" y2="390.80" stroke="#000" stroke-width="1.2"/>
<text x="151.70" y="403.00" font-size="10" text-anchor="middle" font-weight="normal" fill="#000" >5</text>
<line x1="179.60" y1="386.00" x2="179.60" y2="390.80" stroke="#000" stroke-width="1.2"/>
<text x="179.60" y="403.00" font-size="10" text-anchor="middle" font-weight="normal" fill="#000" >0</text>
<line x1="209.10" y1="386.00" x2="209.10" y2="390.80" stroke="#000" stroke-width="1.2"/>
<text x="209.10" y="403.00" font-size="10" text-anchor="middle" font-weight="normal" fill="#000" >2</text>
<line x1="237.70" y1="386.00" x2="237.70" y2="390.80" stroke="#000" stroke-width="1.2"/>
<text x="237.70" y="403.00" font-size="10" text-anchor="middle" font-weight="normal" fill="#000" >4</text>
<text x="150.30" y="417.00" font-size="11.5" text-anchor="middle" font-weight="normal" fill="#000" >CXCL1 (fold induction)</text>
<text x="76.90" y="258.00" font-size="12" text-anchor="middle" font-weight="normal" fill="#000" >Mock</text>
<text x="120.20" y="257.90" font-size="12.2" text-anchor="start" font-weight="normal" fill="#000" textLength="27.0" lengthAdjust="spacingAndGlyphs" >PAR2</text>
<text x="147.30" y="252.50" font-size="8.9" text-anchor="start" font-weight="normal" fill="#000" textLength="12.6" lengthAdjust="spacingAndGlyphs" >WT</text>
<text x="179.30" y="257.90" font-size="12.2" text-anchor="start" font-weight="normal" fill="#000" textLength="27.0" lengthAdjust="spacingAndGlyphs" >PAR2</text>
<text x="206.90" y="252.40" font-size="8.6" text-anchor="start" font-weight="normal" fill="#000" textLength="22.0" lengthAdjust="spacingAndGlyphs" >ΔARR</text>
<text x="58.40" y="286.80" font-size="11.3" text-anchor="end" font-weight="normal" fill="#000" >SLIGRL</text>
<text x="58.40" y="314.30" font-size="11.3" text-anchor="end" font-weight="normal" fill="#000" >Trypsin</text>
<text x="58.40" y="342.70" font-size="11.3" text-anchor="end" font-weight="normal" fill="#000" >VIIa</text>
<text x="58.40" y="370.00" font-size="11.3" text-anchor="end" font-weight="normal" fill="#000" >VIIa/X</text>
<rect x="62.60" y="278.20" width="13.30" height="8.60" fill="#000"/>
<line x1="75.90" y1="282.50" x2="81.10" y2="282.50" stroke="#000" stroke-width="1.2"/>
<line x1="81.10" y1="279.70" x2="81.10" y2="285.30" stroke="#000" stroke-width="1.3"/>
<rect x="121.00" y="278.20" width="30.50" height="8.60" fill="#000"/>
<line x1="151.50" y1="282.50" x2="171.20" y2="282.50" stroke="#000" stroke-width="1.2"/>
<line x1="171.20" y1="279.70" x2="171.20" y2="285.30" stroke="#000" stroke-width="1.3"/>
<text x="175.00" y="288.40" font-size="12" text-anchor="middle" font-weight="bold" fill="#000" >*</text>
<rect x="179.60" y="278.20" width="28.50" height="8.60" fill="#000"/>
<line x1="208.10" y1="282.50" x2="221.80" y2="282.50" stroke="#000" stroke-width="1.2"/>
<line x1="221.80" y1="279.70" x2="221.80" y2="285.30" stroke="#000" stroke-width="1.3"/>
<text x="226.00" y="288.40" font-size="12" text-anchor="middle" font-weight="bold" fill="#000" >*</text>
<rect x="62.60" y="305.80" width="9.70" height="8.50" fill="#000"/>
<line x1="72.30" y1="310.05" x2="76.60" y2="310.05" stroke="#000" stroke-width="1.2"/>
<line x1="76.60" y1="307.25" x2="76.60" y2="312.85" stroke="#000" stroke-width="1.3"/>
<rect x="121.00" y="305.80" width="15.80" height="8.50" fill="#000"/>
<line x1="136.80" y1="310.05" x2="147.00" y2="310.05" stroke="#000" stroke-width="1.2"/>
<line x1="147.00" y1="307.25" x2="147.00" y2="312.85" stroke="#000" stroke-width="1.3"/>
<text x="152.00" y="315.95" font-size="12" text-anchor="middle" font-weight="bold" fill="#000" >*</text>
<rect x="179.60" y="305.80" width="24.50" height="8.50" fill="#000"/>
<line x1="204.10" y1="310.05" x2="221.60" y2="310.05" stroke="#000" stroke-width="1.2"/>
<line x1="221.60" y1="307.25" x2="221.60" y2="312.85" stroke="#000" stroke-width="1.3"/>
<rect x="62.60" y="333.80" width="9.20" height="8.90" fill="#000"/>
<line x1="71.80" y1="338.25" x2="77.50" y2="338.25" stroke="#000" stroke-width="1.2"/>
<line x1="77.50" y1="335.45" x2="77.50" y2="341.05" stroke="#000" stroke-width="1.3"/>
<rect x="121.00" y="333.80" width="17.80" height="8.90" fill="#000"/>
<line x1="138.80" y1="338.25" x2="150.60" y2="338.25" stroke="#000" stroke-width="1.2"/>
<line x1="150.60" y1="335.45" x2="150.60" y2="341.05" stroke="#000" stroke-width="1.3"/>
<text x="156.30" y="344.15" font-size="12" text-anchor="middle" font-weight="bold" fill="#000" >*</text>
<rect x="179.60" y="333.80" width="22.80" height="8.90" fill="#000"/>
<line x1="202.40" y1="338.25" x2="212.40" y2="338.25" stroke="#000" stroke-width="1.2"/>
<line x1="212.40" y1="335.45" x2="212.40" y2="341.05" stroke="#000" stroke-width="1.3"/>
<text x="216.10" y="344.15" font-size="12" text-anchor="middle" font-weight="bold" fill="#000" >*</text>
<rect x="62.60" y="361.10" width="10.40" height="8.90" fill="#000"/>
<line x1="73.00" y1="365.55" x2="80.10" y2="365.55" stroke="#000" stroke-width="1.2"/>
<line x1="80.10" y1="362.75" x2="80.10" y2="368.35" stroke="#000" stroke-width="1.3"/>
<rect x="121.00" y="361.10" width="21.80" height="8.90" fill="#000"/>
<line x1="142.80" y1="365.55" x2="156.30" y2="365.55" stroke="#000" stroke-width="1.2"/>
<line x1="156.30" y1="362.75" x2="156.30" y2="368.35" stroke="#000" stroke-width="1.3"/>
<text x="160.30" y="371.45" font-size="12" text-anchor="middle" font-weight="bold" fill="#000" >*</text>
<rect x="179.60" y="361.10" width="29.00" height="8.90" fill="#000"/>
<line x1="208.60" y1="365.55" x2="219.80" y2="365.55" stroke="#000" stroke-width="1.2"/>
<line x1="219.80" y1="362.75" x2="219.80" y2="368.35" stroke="#000" stroke-width="1.3"/>
<text x="223.10" y="371.45" font-size="12" text-anchor="middle" font-weight="bold" fill="#000" >*</text>
</svg>
</body></html>
